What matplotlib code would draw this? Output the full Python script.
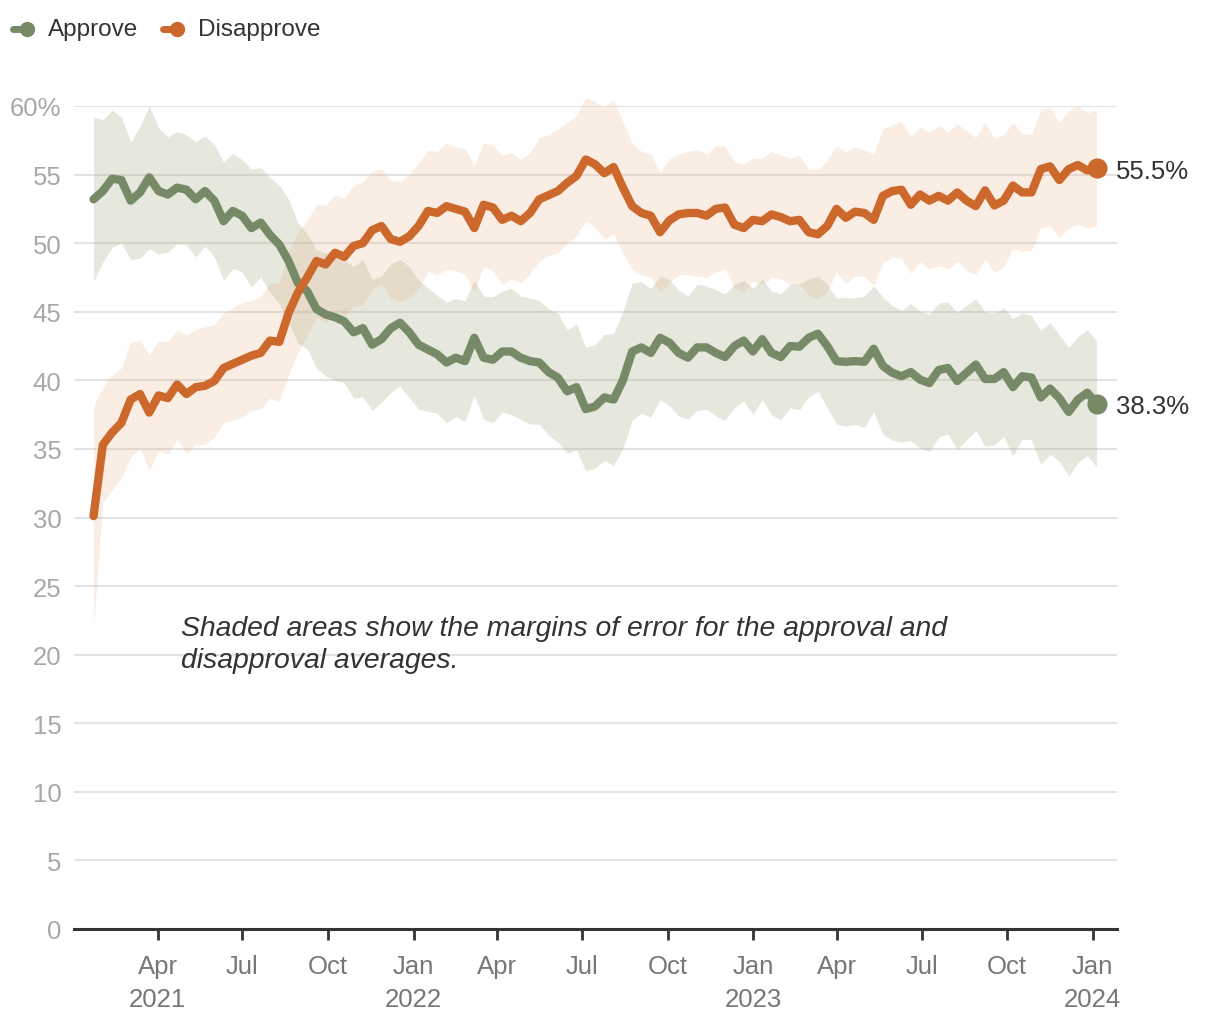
import matplotlib
matplotlib.use("Agg")
import matplotlib.pyplot as plt
from matplotlib.lines import Line2D
import numpy as np
import pandas as pd

# ---------------- data ----------------
start_date = "2021-01-22"
end_date = "2024-01-05"
n_points = 109

approve = [
    53.2, 53.8, 54.7, 54.6, 53.1, 53.7, 54.8, 53.8, 53.55, 54.05,
    53.9, 53.2, 53.8, 53.1, 51.6, 52.35, 52.0, 51.1, 51.5, 50.6,
    49.9, 48.7, 47.1, 46.5, 45.2, 44.8, 44.6, 44.3, 43.5, 43.8,
    42.6, 43.0, 43.8, 44.2, 43.5, 42.6, 42.25, 41.9, 41.3, 41.65,
    41.4, 43.1, 41.65, 41.5, 42.1, 42.1, 41.65, 41.4, 41.3, 40.6,
    40.2, 39.2, 39.5, 37.9, 38.1, 38.75, 38.6, 40.0, 42.1, 42.4,
    42.0, 43.1, 42.75, 42.0, 41.65, 42.4, 42.4, 42.0, 41.7, 42.5,
    42.9, 42.1, 43.0, 42.0, 41.7, 42.5, 42.45, 43.1, 43.4, 42.5,
    41.4, 41.35, 41.4, 41.35, 42.3, 41.05, 40.55, 40.3, 40.6, 40.05,
    39.8, 40.75, 40.9, 39.95, 40.55, 41.15, 40.1, 40.1, 40.6, 39.5,
    40.3, 40.2, 38.75, 39.4, 38.7, 37.7, 38.6, 39.1, 38.3,
]

disapprove = [
    30.1, 35.3, 36.2, 36.9, 38.6, 39.0, 37.65, 38.9, 38.7, 39.7,
    39.0, 39.5, 39.6, 39.95, 40.9, 41.2, 41.5, 41.8, 42.0, 42.9,
    42.8, 44.9, 46.4, 47.5, 48.7, 48.45, 49.3, 49.0, 49.8, 50.0,
    50.95, 51.25, 50.3, 50.1, 50.5, 51.25, 52.35, 52.2, 52.7, 52.5,
    52.3, 51.1, 52.8, 52.6, 51.7, 52.0, 51.6, 52.2, 53.2, 53.5,
    53.8, 54.4, 54.9, 56.1, 55.75, 55.1, 55.55, 54.05, 52.7, 52.2,
    52.0, 50.8, 51.65, 52.1, 52.2, 52.2, 52.0, 52.5, 52.6, 51.35,
    51.1, 51.7, 51.6, 52.1, 51.9, 51.6, 51.7, 50.8, 50.65, 51.25,
    52.5, 51.85, 52.3, 52.2, 51.7, 53.45, 53.8, 53.9, 52.8, 53.55,
    53.1, 53.45, 53.1, 53.7, 53.1, 52.7, 53.85, 52.75, 53.1, 54.2,
    53.7, 53.7, 55.4, 55.6, 54.6, 55.4, 55.7, 55.3, 55.5,
]

approve_moe = [
    6.0, 5.2, 5.0, 4.6, 4.3, 4.8, 5.2, 4.6, 4.2, 4.1,
    4.0, 4.2, 4.0, 4.1, 4.3, 4.2, 4.1, 4.3, 4.0, 4.2,
    4.3, 4.5, 4.4, 4.2, 4.3, 4.5, 4.6, 4.5, 4.8, 5.0,
    4.8, 4.6, 4.7, 4.6, 4.8, 4.7, 4.5, 4.3, 4.4, 4.3,
    4.4, 4.2, 4.5, 4.6, 4.4, 4.6, 4.5, 4.6, 4.5, 4.6,
    4.7, 4.5, 4.6, 4.5, 4.5, 4.6, 4.8, 5.0, 5.0, 4.8,
    4.7, 4.5, 4.6, 4.6, 4.5, 4.6, 4.5, 4.6, 4.6, 4.5,
    4.4, 4.6, 4.4, 4.5, 4.6, 4.5, 4.6, 4.3, 4.2, 4.5,
    4.6, 4.7, 4.6, 4.8, 4.6, 5.0, 4.9, 4.8, 5.0, 5.0,
    5.0, 4.9, 4.8, 5.0, 4.9, 4.8, 4.9, 4.8, 4.7, 5.0,
    4.6, 4.5, 4.9, 4.8, 4.6, 4.7, 4.6, 4.6, 4.6,
]

disapprove_moe = [
    8.0, 4.2, 4.2, 4.0, 4.2, 3.9, 4.2, 4.0, 4.1, 4.0,
    4.3, 4.2, 4.3, 4.1, 4.0, 4.1, 4.2, 4.0, 4.1, 4.2,
    4.3, 4.5, 4.4, 4.2, 4.1, 4.3, 4.2, 4.3, 4.4, 4.5,
    4.3, 4.2, 4.3, 4.4, 4.5, 4.6, 4.4, 4.5, 4.6, 4.5,
    4.6, 4.6, 4.5, 4.6, 4.7, 4.6, 4.5, 4.4, 4.5, 4.4,
    4.5, 4.4, 4.4, 4.5, 4.6, 4.8, 4.9, 4.8, 4.6, 4.5,
    4.5, 4.4, 4.5, 4.4, 4.5, 4.6, 4.5, 4.6, 4.5, 4.6,
    4.7, 4.5, 4.6, 4.6, 4.5, 4.6, 4.7, 4.6, 4.7, 4.8,
    4.6, 4.8, 4.7, 4.6, 4.8, 4.9, 4.8, 5.0, 5.0, 4.9,
    5.0, 5.1, 5.0, 5.0, 5.1, 5.0, 5.0, 4.9, 4.8, 4.6,
    4.3, 4.2, 4.3, 4.3, 4.2, 4.3, 4.3, 4.2, 4.2,
]

tick_dates = ["2021-04-01", "2021-07-01", "2021-10-01", "2022-01-01",
              "2022-04-01", "2022-07-01", "2022-10-01", "2023-01-01",
              "2023-04-01", "2023-07-01", "2023-10-01", "2024-01-01"]
tick_labels = ["Apr\n2021", "Jul", "Oct", "Jan\n2022", "Apr", "Jul", "Oct",
               "Jan\n2023", "Apr", "Jul", "Oct", "Jan\n2024"]
y_ticks = [0, 5, 10, 15, 20, 25, 30, 35, 40, 45, 50, 55, 60]
y_labels = ["0", "5", "10", "15", "20", "25", "30", "35", "40", "45", "50", "55", "60%"]

series_names = ["Approve", "Disapprove"]
note_lines = ["Shaded areas show the margins of error for the approval and",
              "disapproval averages."]

# ---------------- style ----------------
GREEN = "#778a67"
ORANGE = "#cc682c"
GREEN_FILL = "#a5ad85"
ORANGE_FILL = "#eaa877"
FONT = "Liberation Sans"

W, H = 1220, 1020
fig = plt.figure(figsize=(W / 100, H / 100), dpi=100)
ax = fig.add_axes([74 / W, 1 - 930 / H, (1117 - 74) / W, (930 - 107) / H])

dates = pd.date_range(start_date, end_date, periods=n_points)
a = np.array(approve)
d = np.array(disapprove)
am = np.array(approve_moe)
dm = np.array(disapprove_moe)

ax.fill_between(dates, a - am, a + am, color=GREEN_FILL, alpha=0.27,
                linewidth=0, clip_on=False, zorder=1)
ax.fill_between(dates, d - dm, d + dm, color=ORANGE_FILL, alpha=0.2,
                linewidth=0, clip_on=False, zorder=1)

ax.plot(dates, a, color=GREEN, lw=6, solid_capstyle="round",
        solid_joinstyle="round", zorder=3)
ax.plot(dates, d, color=ORANGE, lw=6, solid_capstyle="round",
        solid_joinstyle="round", zorder=3)
ax.plot(dates[-1], a[-1], "o", color=GREEN, ms=13.5, zorder=4, clip_on=False)
ax.plot(dates[-1], d[-1], "o", color=ORANGE, ms=13.5, zorder=4, clip_on=False)

ax.annotate(f"{a[-1]:.1f}%", (dates[-1], a[-1]), xytext=(14, -2),
            textcoords="offset points", va="center", ha="left",
            fontsize=18.5, color="#333333", family=FONT)
ax.annotate(f"{d[-1]:.1f}%", (dates[-1], d[-1]), xytext=(14, -2),
            textcoords="offset points", va="center", ha="left",
            fontsize=18.5, color="#333333", family=FONT)

ax.set_ylim(0, 60)
ax.set_xlim(pd.Timestamp("2021-01-01"), pd.Timestamp("2024-01-27"))
ax.set_yticks(y_ticks)
ax.set_yticklabels(y_labels, family=FONT, fontsize=18.5, color="#a8a8a8")
ax.set_xticks(pd.to_datetime(tick_dates))
ax.set_xticklabels(tick_labels, family=FONT, fontsize=18.5, color="#777777",
                   linespacing=1.45)
ax.tick_params(axis="y", length=0, pad=9)
ax.tick_params(axis="x", length=8, width=2, color="#333333", pad=10)

for yv in y_ticks[1:]:
    ax.axhline(yv, color="#e3e3e3", lw=1.5, zorder=0)
for s in ["top", "right", "left"]:
    ax.spines[s].set_visible(False)
ax.spines["bottom"].set_color("#333333")
ax.spines["bottom"].set_linewidth(2.2)

for i, line in enumerate(note_lines):
    fig.text(181 / W, 1 - (629 + 32 * i) / H, line,
             fontsize=20.4, style="italic", family=FONT, color="#333333",
             va="center", ha="left")

# legend
def leg(x0, x1, color, label, tx):
    yy = 1 - 30 / H
    fig.add_artist(Line2D([x0 / W, x1 / W], [yy, yy], transform=fig.transFigure,
                          color=color, lw=5, solid_capstyle="round"))
    fig.add_artist(Line2D([x1 / W], [yy], transform=fig.transFigure, marker="o",
                          ms=10, color=color, lw=0))
    fig.text(tx / W, yy, label, fontsize=17.5, family=FONT, color="#333333",
             va="center", ha="left")

leg(13, 27, GREEN, series_names[0], 48)
leg(163, 177, ORANGE, series_names[1], 198)

fig.savefig("out.png", dpi=100, facecolor="white")
